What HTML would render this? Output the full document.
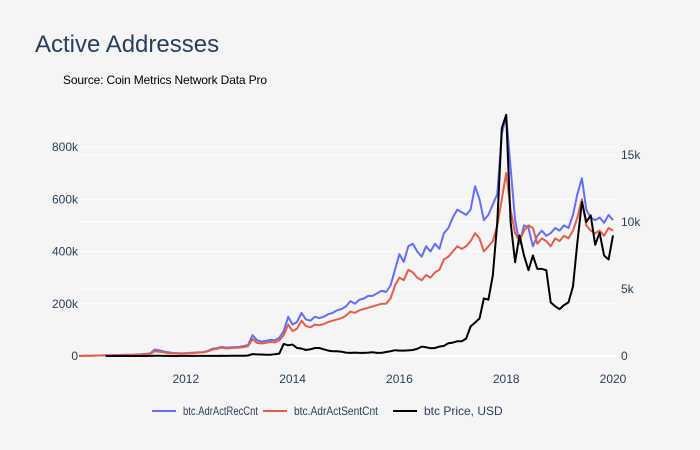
<!DOCTYPE html>
<html><head><meta charset="utf-8"><style>
body{margin:0;background:#f5f5f5;font-family:"Liberation Sans",sans-serif}
svg{display:block}
</style></head><body>
<svg width="700" height="450" xmlns="http://www.w3.org/2000/svg">
<rect width="700" height="450" fill="#f5f5f5"/>
<text x="35" y="52" font-size="24" fill="#2a3f5f">Active Addresses</text>
<text x="63" y="84" font-size="12" fill="#000" textLength="204">Source: Coin Metrics Network Data Pro</text>
<g id="grid"></g><g id="axes"></g><g id="series"></g>
<g>
<g><line x1="152" y1="411" x2="176" y2="411" stroke="#636efa" stroke-width="2"/><text x="183" y="415" font-size="12" fill="#2a3f5f" textLength="75" lengthAdjust="spacingAndGlyphs">btc.AdrActRecCnt</text></g>
<g><line x1="263" y1="411" x2="287" y2="411" stroke="#e45f4a" stroke-width="2"/><text x="294" y="415" font-size="12" fill="#2a3f5f" textLength="84" lengthAdjust="spacingAndGlyphs">btc.AdrActSentCnt</text></g>
<g><line x1="393" y1="411" x2="417" y2="411" stroke="#000" stroke-width="2"/><text x="424" y="415" font-size="12" fill="#2a3f5f">btc Price, USD</text></g>
</g>
</svg>
<script>
const startYear = 2010;
const recCnt = [0,1,1,1,2,2,3,3,4,4,5,5, 5,6,7,8,10,25,22,18,14,12,11,10, 11,12,13,14,15,20,28,30,35,32,33,34, 35,38,42,80,60,55,58,62,60,70,95,150, 120,130,165,140,135,150,145,150,160,165,175,180, 190,210,200,215,220,230,230,240,250,245,270,330, 390,360,420,430,400,380,420,400,430,410,470,490, 530,560,550,540,560,650,600,520,540,580,620,850, 920,720,520,430,500,490,420,460,480,460,470,490, 480,500,490,540,620,680,560,530,520,530,510,540, 520];
const sentCnt = [0,1,1,1,2,2,3,3,3,4,4,4, 4,5,6,7,8,18,16,14,11,10,9,9, 10,11,12,13,14,18,25,27,32,29,30,31, 32,34,38,65,50,48,50,54,52,60,80,120, 95,105,135,115,110,120,118,122,130,135,140,145, 155,170,165,175,180,185,190,195,200,200,220,270, 300,290,330,320,300,290,310,300,320,330,370,380, 400,420,410,420,440,470,450,400,420,440,500,600, 700,560,470,440,480,500,490,430,450,440,420,450, 440,460,450,480,530,600,500,480,470,480,460,490, 480];
const priceUsd = [null,null,null,null,null,null,0.06,0.07,0.06,0.2,0.3,0.3, 0.5,1,0.9,3,8,17,13,10,5,3,3,4, 6,5,5,5,5,6,7,10,12,11,12,13, 15,25,40,140,120,110,90,100,130,180,900,800, 850,600,550,450,500,600,600,500,400,350,350,320, 250,230,250,230,230,250,280,230,230,300,350,430, 400,400,415,450,530,700,650,580,600,700,750,950, 1000,1100,1100,1300,2200,2500,2800,4300,4200,6000,10000,17000, 18000,10000,7000,9000,7500,6400,7500,6500,6500,6400,4000,3700, 3500,3800,4000,5200,8500,11500,10000,10500,8300,9200,7500,7200, 9000];
const xTicks = [2012,2014,2016,2018,2020];
const yLeftTicks = [0,200000,400000,600000,800000];
const yLeftLabels = ["0","200k","400k","600k","800k"];
const yRightTicks = [0,5000,10000,15000];
const yRightLabels = ["0","5k","10k","15k"];

const NS="http://www.w3.org/2000/svg";
const X0=79, X1=616;
const xs = y => 79 + (y-2010)*53.4;
const yl = v => 356 - v/200000*52.25;
const yr = v => 356 - v/5000*67;
function mk(tag, attrs, parent){const e=document.createElementNS(NS,tag);for(const k in attrs)e.setAttribute(k,attrs[k]);parent.appendChild(e);return e;}
const grid=document.getElementById('grid'), axes=document.getElementById('axes'), ser=document.getElementById('series');
yLeftTicks.forEach((v,i)=>{
  const l=mk('line',{x1:X0,x2:X1,y1:yl(v),y2:yl(v),stroke:'#fff','stroke-width':v===0?2:1},grid);
  
  
  const t=mk('text',{x:78,y:yl(v)+4,'font-size':12,fill:'#2a3f5f','text-anchor':'end'},axes);
  t.textContent=yLeftLabels[i];
  
  
});
yRightTicks.forEach((v,i)=>{
  if(v>0){const l=mk('line',{x1:X0,x2:X1,y1:yr(v),y2:yr(v),stroke:'#fff','stroke-width':1},grid);
  
  }
  const t=mk('text',{x:621,y:yr(v)+4,'font-size':12,fill:'#2a3f5f'},axes);
  t.textContent=yRightLabels[i];
  
  
});
xTicks.forEach(v=>{
  const t=mk('text',{x:xs(v),y:383,'font-size':12,fill:'#2a3f5f','text-anchor':'middle'},axes);
  t.textContent=String(v);
  
  
});
function path(arr, fy){let d='';arr.forEach((v,i)=>{if(v===null)return;const x=xs(startYear+i/12),y=fy(v);d+=(d?'L':'M')+x.toFixed(1)+','+y.toFixed(1);});return d;}
const pr=mk('path',{d:path(recCnt.map(v=>v*1000),yl),fill:'none',stroke:'#636efa','stroke-width':2,'stroke-linejoin':'round'},ser);


const ps=mk('path',{d:path(sentCnt.map(v=>v*1000),yl),fill:'none',stroke:'#e45f4a','stroke-width':2,'stroke-linejoin':'round'},ser);


const pp=mk('path',{d:path(priceUsd,yr),fill:'none',stroke:'#000','stroke-width':2,'stroke-linejoin':'round'},ser);


</script>
</body></html>
